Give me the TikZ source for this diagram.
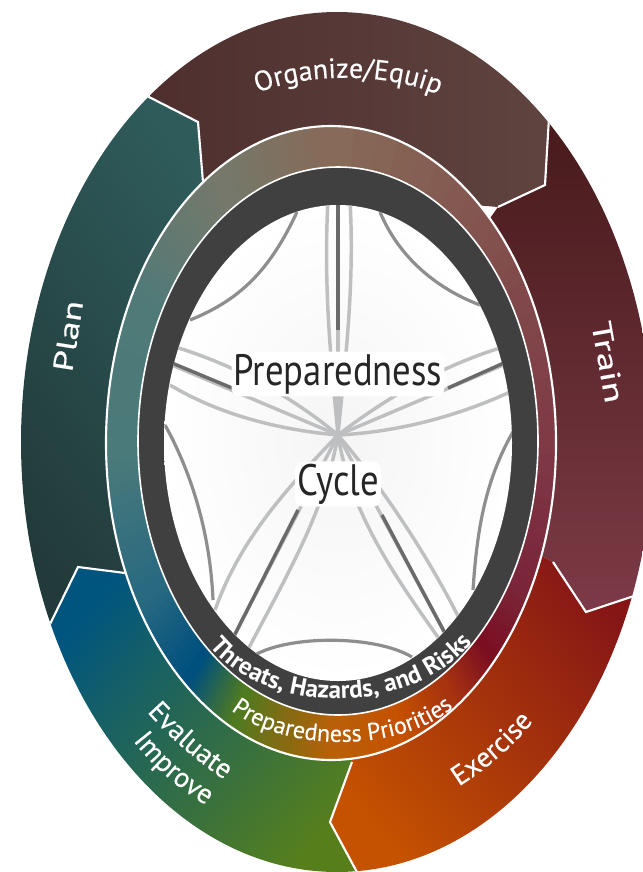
\documentclass[tikz,border=0pt]{standalone}
\usepackage{fontspec}
\setmainfont{PT Sans}
\newfontfamily\labelfam[FakeBold=0.35]{PT Sans}
\usetikzlibrary{decorations.text}
\definecolor{orgA}{HTML}{4E2F2E}\definecolor{orgB}{HTML}{5F4440}
\definecolor{trnA}{HTML}{45191A}\definecolor{trnB}{HTML}{7D3B47}
\definecolor{exeA}{HTML}{C55200}\definecolor{exeB}{HTML}{861616}
\definecolor{evaA}{HTML}{00557F}\definecolor{evaB}{HTML}{567F1C}
\definecolor{plnA}{HTML}{2F5B5B}\definecolor{plnB}{HTML}{223A3A}
\definecolor{dk}{HTML}{404040}
\definecolor{ra}{HTML}{876A58}\definecolor{rb}{HTML}{80484A}\definecolor{rc}{HTML}{7F3A46}
\definecolor{rd}{HTML}{7A2538}\definecolor{re}{HTML}{7A0F22}\definecolor{rf}{HTML}{A8330F}
\definecolor{rg}{HTML}{C55200}\definecolor{rh}{HTML}{B86008}\definecolor{ri}{HTML}{8A6A10}
\definecolor{rj}{HTML}{507A20}\definecolor{rk}{HTML}{00507E}\definecolor{rl}{HTML}{2A6A80}
\definecolor{rm}{HTML}{4A7A7A}\definecolor{rn}{HTML}{4F7A78}\definecolor{ro}{HTML}{75786A}
\definecolor{lg}{HTML}{BDBFC1}\definecolor{mg}{HTML}{8E8E8E}\definecolor{dg}{HTML}{6A6A6A}
\newcommand{\ringseg}[4]{%
  \foreach \i in {0,...,12}{%
    \pgfmathsetmacro{\aa}{#1+(#2-#1)*\i/13}%
    \pgfmathsetmacro{\bb}{#1+(#2-#1)*(\i+1.3)/13}%
    \pgfmathsetmacro{\pp}{100-\i*100/12}%
    \fill[#3!\pp!#4] (331,443) -- +(\aa:700) -- +(\bb:700) -- cycle;
  }}
\tikzset{
  seam/.style={draw=white,line width=1.6pt,line join=miter},
  sp/.style={line width=2.6pt,lg},
  arcline/.style={line width=2.4pt,mg},
  darksp/.style={line width=2.6pt,dg},
  curved/.style={decorate,decoration={text along path,text align=center,text color=white,text={#1}}},
  halo/.style={fill=white,rounded corners=6pt,inner sep=1.5pt,text=black!85,yscale=1.2},
}
\newcommand{\segfont}{\labelfam\fontsize{21}{24}\selectfont}
\newcommand{\smallfont}{\labelfam\fontsize{18}{20}\selectfont}
\newcommand{\midfont}{\fontsize{18.8}{21}\bfseries\selectfont}
\begin{document}
\begin{tikzpicture}[x=0.75pt,y=-0.75pt]
\useasboundingbox (0,0) rectangle (643,872);
\clip (0,0) rectangle (643,872);
\begin{scope}
  \clip (337,442) ellipse [x radius=316,y radius=430];
  % Organize
  \begin{scope}
    \clip (104,74) -- (198,122) -- (203,182) -- (498,207) -- (545,185) -- (553,50) -- (553,0) -- (104,0) -- cycle;
    \shade[left color=orgA,right color=orgB] (150,0) rectangle (555,210);
  \end{scope}
  % Train
  \begin{scope}
    \clip (553,50) -- (545,185) -- (498,207) -- (331,443) -- (553,562) -- (586,612) -- (676,582) -- (700,582) -- (700,50) -- cycle;
    \shade[top color=trnA,bottom color=trnB] (490,100) rectangle (680,620);
  \end{scope}
  % Exercise
  \begin{scope}
    \clip (553,562) -- (586,612) -- (676,582) -- (700,582) -- (700,900) -- (372,900) -- (330,822) -- (352,762) -- (331,443) -- cycle;
    \shade[bottom color=exeA,top color=exeB,shading angle=-50] (325,555) rectangle (650,872);
  \end{scope}
  % Evaluate
  \begin{scope}
    \clip (352,762) -- (330,822) -- (372,900) -- (0,900) -- (0,665) -- (30,665) -- (78,567) -- (125,573) -- (331,443) -- cycle;
    \shade[top color=evaA,bottom color=evaB,shading angle=50] (40,560) rectangle (375,875);
  \end{scope}
  % Plan
  \begin{scope}
    \clip (125,573) -- (78,567) -- (30,665) -- (0,665) -- (0,0) -- (104,0) -- (104,74) -- (198,122) -- (203,182) -- (331,443) -- cycle;
    \shade[top color=plnA,bottom color=plnB,shading angle=-55] (15,85) rectangle (215,640);
  \end{scope}
  % seams
  \draw[seam] (104,74) -- (198,122) -- (203,182);
  \draw[seam] (553,50) -- (545,185) -- (498,207);
  \draw[seam] (553,562) -- (586,612) -- (676,582);
  \draw[seam] (352,762) -- (330,822) -- (372,900);
  \draw[seam] (125,573) -- (78,567) -- (30,665);
\end{scope}
% gradient ring
\begin{scope}
  \clip (331,443) ellipse [x radius=225,y radius=317];
  \ringseg{270}{324}{ra}{rb}
  \ringseg{324}{360}{rb}{rc}
  \ringseg{0}{38}{rc}{rd}
  \ringseg{38}{53}{rd}{re}
  \ringseg{53}{65}{re}{rf}
  \ringseg{65}{77}{rf}{rg}
  \ringseg{77}{90}{rg}{rh}
  \ringseg{90}{98}{rh}{ri}
  \ringseg{98}{109}{ri}{rj}
  \ringseg{109}{121}{rj}{rk}
  \ringseg{121}{141}{rk}{rl}
  \ringseg{141}{178}{rl}{rm}
  \ringseg{178}{216}{rm}{rn}
  \ringseg{216}{248}{rn}{ro}
  \ringseg{248}{270}{ro}{ra}
\end{scope}
\draw[white,line width=1.6pt] (331,443) ellipse [x radius=225,y radius=317];
% dark ring
\fill[dk,draw=white,line width=1.2pt] (338,441) ellipse [x radius=200,y radius=274];
\shade[inner color=gray!8,outer color=white] (338,443) ellipse [x radius=174,y radius=238];
\begin{scope}
  \clip (338,443) ellipse [x radius=174,y radius=238];
  \coordinate (C) at (338,435);
  % top
  \draw[sp] (328,200) .. controls (323,290) and (332,370) .. (C);
  \draw[sp] (350,200) .. controls (355,290) and (344,370) .. (C);
  \draw[sp] (338,200) -- (C);
  \draw[darksp] (338,200) -- (338,330);
  % left
  \draw[sp] (165,344) .. controls (230,362) and (290,395) .. (C);
  \draw[sp] (160,360) -- (C);
  \draw[darksp] (160,358) -- (232,388);
  \draw[sp] (170,385) .. controls (220,415) and (280,430) .. (C);
  % right
  \draw[sp] (510,345) .. controls (447,363) and (390,395) .. (C);
  \draw[sp] (515,360) -- (C);
  \draw[darksp] (515,358) -- (448,388);
  \draw[sp] (510,392) .. controls (460,415) and (400,432) .. (C);
  % lower left
  \draw[sp] (215,610) .. controls (240,540) and (285,490) .. (C);
  \draw[sp] (232,640) -- (C);
  \draw[darksp] (232,640) -- (298,510);
  \draw[sp] (245,655) .. controls (290,570) and (325,510) .. (C);
  % lower right
  \draw[sp] (440,640) .. controls (390,570) and (350,510) .. (C);
  \draw[sp] (447,637) -- (C);
  \draw[darksp] (447,637) -- (382,515);
  \draw[sp] (460,620) .. controls (430,560) and (385,490) .. (C);
  % arcs
  \draw[arcline] (190,320) .. controls (240,300) and (270,270) .. (297,212);
  \draw[arcline] (380,212) .. controls (400,260) and (440,290) .. (480,305);
  \draw[arcline] (514,430) .. controls (485,480) and (477,530) .. (473,590);
  \draw[arcline] (165,425) .. controls (190,470) and (210,530) .. (213,600);
  \draw[arcline] (255,655) .. controls (290,635) and (375,635) .. (412,657);
\end{scope}
\node[halo] (prep) at (338,374) {\fontsize{27.5}{30}\selectfont Preparedness};
\node[halo] (cyc) at (338,484) {\fontsize{27.5}{30}\selectfont Cycle};
% labels
\path[curved={|\segfont|Organize/Equip}] (248,97) .. controls (300,72) and (390,70) .. (448,99);
\node[text=white,rotate=81,xscale=1.35] (plan) at (68,336) {\segfont Plan};
\node[text=white,rotate=-80,xscale=1.4] (train) at (608,362) {\segfont Train};
\path[curved={|\segfont|Exercise}] (445,795) .. controls (480,775) and (518,745) .. (543,708);
\path[curved={|\segfont|Evaluate}] (135,698) .. controls (165,735) and (200,765) .. (240,790);
\path[curved={|\segfont|Improve}] (125,730) .. controls (150,765) and (178,790) .. (218,812);
\path[curved={|\midfont|Threats, Hazards, and Risks}] (198,630) .. controls (250,722) and (425,722) .. (484,627);
\path[curved={|\smallfont|Preparedness Priorities}] (218,698) .. controls (270,757) and (415,757) .. (466,695);
\end{tikzpicture}
\end{document}
